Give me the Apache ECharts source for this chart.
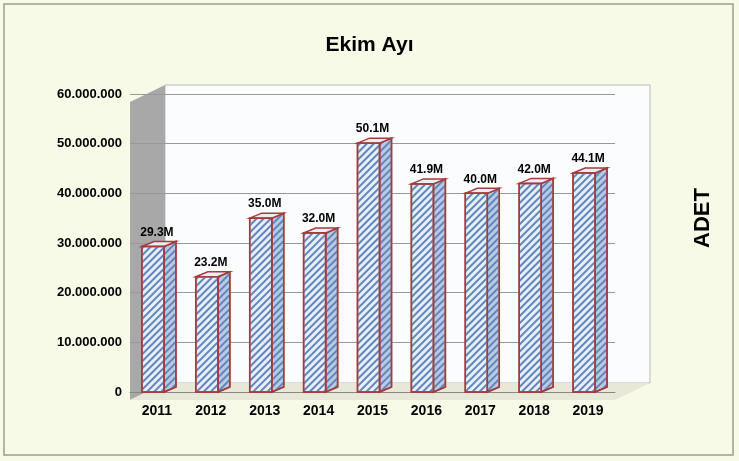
<!DOCTYPE html><html><head><meta charset="utf-8"><script src="https://cdn.jsdelivr.net/npm/echarts@6/dist/echarts.min.js"></script>
<style>body{margin:0;background:#fff}#c{width:739px;height:461px}</style></head><body><div id="c"></div><script>
const years=['2011','2012','2013','2014','2015','2016','2017','2018','2019'];
const values=[29300000,23200000,35000000,32000000,50100000,41900000,40000000,42000000,44100000];
const labels=['29.3M','23.2M','35.0M','32.0M','50.1M','41.9M','40.0M','42.0M','44.1M'];
const fmt=v=>v===0?'0':String(v).replace(/\B(?=(\d{3})+(?!\d))/g,'.');
const chart=echarts.init(document.getElementById('c'));
const stripe={symbol:'rect',dashArrayX:[1,0],dashArrayY:[1.5,2.5],rotation:-Math.PI/4,color:'#5f87bd'};
chart.setOption({
 backgroundColor:'#f7fae6',
 title:{text:'Ekim Ayı',left:'center',top:30,textStyle:{fontFamily:'Liberation Sans',fontWeight:'bold',fontSize:21,color:'#000'}},
 graphic:[{type:'rect',shape:{x:4,y:4,width:729,height:451},style:{fill:'none',stroke:'#9aa08a',lineWidth:1.5}},
  {type:'text',x:703,y:218,rotation:Math.PI/2,style:{text:'ADET',fontFamily:'Liberation Sans',fontWeight:'bold',fontSize:22,fill:'#000',align:'center',verticalAlign:'middle'}},
  {type:'rect',shape:{x:165,y:85,width:485,height:298},style:{fill:'#fbfcfd',stroke:'#bbb'},z:-2},
  {type:'polygon',shape:{points:[[130,102],[165,85],[165,383],[130,400]]},style:{fill:'#a8a8a8'},z:-1},
  {type:'polygon',shape:{points:[[130,400],[165,383],[650,383],[615,400]]},style:{fill:'#e8e8d8'},z:-1}],
 grid:{left:130,right:124,top:94,bottom:69},
 xAxis:{type:'category',data:years,axisTick:{show:false},axisLine:{lineStyle:{color:'#888'}},
  axisLabel:{fontFamily:'Liberation Sans',fontWeight:'bold',fontSize:14,color:'#000',margin:12}},
 yAxis:{type:'value',min:0,max:60000000,interval:10000000,
  axisLabel:{formatter:fmt,fontFamily:'Liberation Sans',fontWeight:'bold',fontSize:13,color:'#000',margin:8},
  splitLine:{lineStyle:{color:'#999'}},axisLine:{show:false}},
 series:[{type:'custom',data:values.map((v,i)=>[i,v]),
  renderItem:(p,api)=>{
   const top=api.coord([api.value(0),api.value(1)]),bot=api.coord([api.value(0),0]);
   const w=22,d=12,dy=5,x0=top[0]-w/2-4;
   return {type:'group',children:[
    {type:'polygon',shape:{points:[[x0+w,top[1]],[x0+w+d,top[1]-dy],[x0+w+d,bot[1]-dy],[x0+w,bot[1]]]},style:{fill:'#b9cbe3',stroke:'#a83a3a',lineWidth:1.5,decal:stripe}},
    {type:'polygon',shape:{points:[[x0,top[1]],[x0+d,top[1]-dy],[x0+w+d,top[1]-dy],[x0+w,top[1]]]},style:{fill:'#e6eef8',stroke:'#a83a3a',lineWidth:1.5}},
    {type:'rect',shape:{x:x0,y:top[1],width:w,height:bot[1]-top[1]},style:{fill:'#e8eff8',stroke:'#a83a3a',lineWidth:1.5,decal:stripe}},
    {type:'text',style:{text:labels[p.dataIndex],x:top[0],y:top[1]-8,align:'center',verticalAlign:'bottom',font:'bold 12px Liberation Sans',fill:'#000'}}
   ]};
  }}]
});
</script></body></html>
